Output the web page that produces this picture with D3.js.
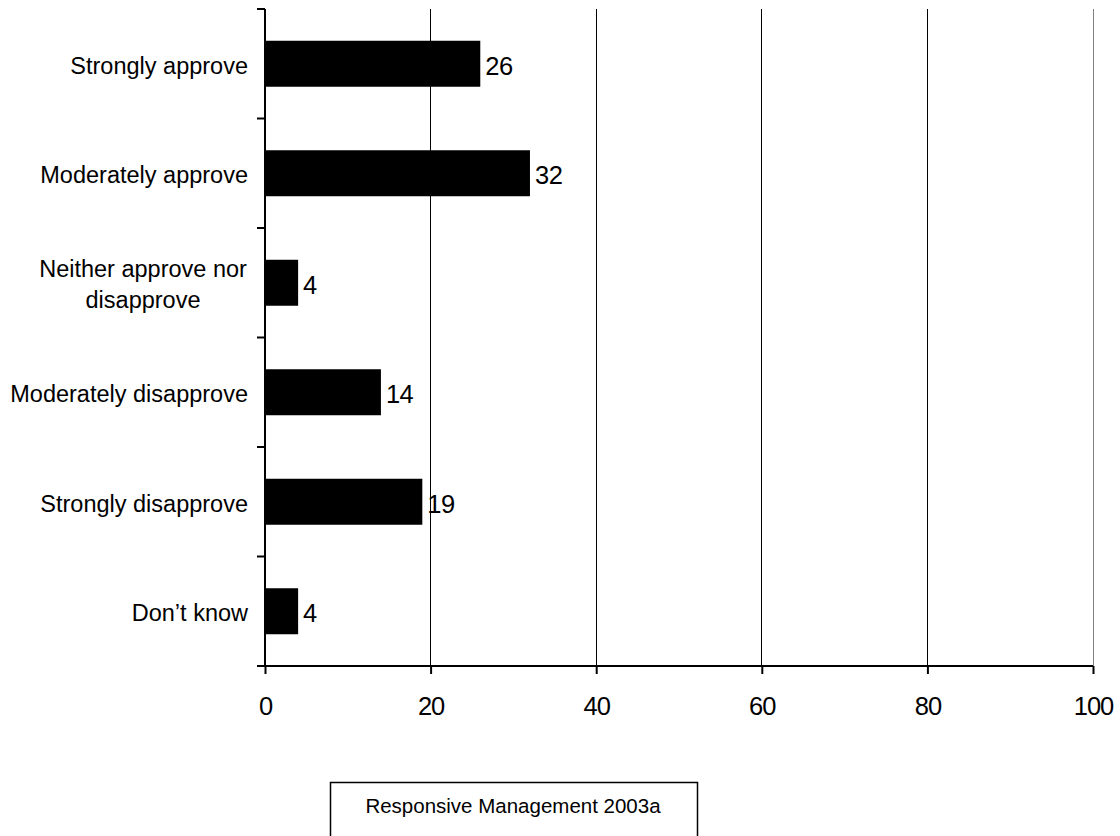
<!DOCTYPE html>
<html>
<head>
<meta charset="utf-8">
<script src="https://cdn.jsdelivr.net/npm/d3@7"></script>
<style>
  html, body { margin: 0; padding: 0; background: #fff; }
  svg { display: block; font-family: "Liberation Sans", Arial, sans-serif; }
</style>
</head>
<body>
<svg id="chart" width="1120" height="836"></svg>
<script>
// Survey responses (percent)
const categories = [
  "Strongly approve",
  "Moderately approve",
  "Neither approve nor disapprove",
  "Moderately disapprove",
  "Strongly disapprove",
  "Don\u2019t know"
];
const values = [26, 32, 4, 14, 19, 4];
const xTicks = [0, 20, 40, 60, 80, 100];
const sourceNote = "Responsive Management 2003a";

// Wrapped label lines for long category names
const labelLines = {
  "Neither approve nor disapprove": ["Neither approve nor", "disapprove"]
};

const svg = d3.select("#chart");
const margin = { left: 265, right: 1120 - 1093, top: 9, bottom: 836 - 666 };
const width = 1120 - margin.left - margin.right;
const height = 836 - margin.top - margin.bottom;

const g = svg.append("g").attr("transform", `translate(${margin.left},${margin.top})`);

const x = d3.scaleLinear().domain([0, 100]).range([0, width]);
const y = d3.scaleBand().domain(categories).range([0, height]).paddingInner(0.58).paddingOuter(0.29);

// Vertical gridlines
g.append("g")
  .selectAll("line")
  .data(xTicks.filter(d => d > 0))
  .join("line")
  .attr("x1", d => x(d)).attr("x2", d => x(d))
  .attr("y1", 0).attr("y2", height)
  .attr("stroke", d => d === 100 ? "#808080" : "#000")
  .attr("stroke-width", 1)
  .attr("shape-rendering", "crispEdges");

// Bars
g.append("g")
  .selectAll("rect")
  .data(categories)
  .join("rect")
  .attr("x", 0)
  .attr("y", d => y(d))
  .attr("width", (d, i) => x(values[i]))
  .attr("height", y.bandwidth())
  .attr("fill", "#000");

// Value labels
g.append("g")
  .selectAll("text")
  .data(categories)
  .join("text")
  .attr("x", (d, i) => x(values[i]) + 5)
  .attr("y", d => y(d) + y.bandwidth() / 2 + 2)
  .attr("dy", "0.35em")
  .attr("font-size", 25.5)
  .attr("letter-spacing", -0.5)
  .attr("fill", "#000")
  .text((d, i) => values[i]);

// Y axis: ticks sit on band boundaries
const bandEdges = d3.range(categories.length + 1).map(i => (height / categories.length) * i);
const yAxisG = g.append("g");
yAxisG.append("line")
  .attr("x1", 0).attr("x2", 0).attr("y1", 0).attr("y2", height)
  .attr("stroke", "#000").attr("stroke-width", 2);
yAxisG.selectAll("line.tick")
  .data(bandEdges)
  .join("line")
  .attr("class", "tick")
  .attr("x1", -8).attr("x2", 0)
  .attr("y1", d => d).attr("y2", d => d)
  .attr("stroke", "#000").attr("stroke-width", 2);

// Category labels: single lines right-aligned, wrapped ones centred
const labels = g.append("g")
  .selectAll("text")
  .data(categories)
  .join("text")
  .attr("text-anchor", d => labelLines[d] ? "middle" : "end")
  .attr("font-size", 23.5)
  .attr("fill", "#000");
labels.each(function(d) {
  const lines = labelLines[d] || [d];
  const t = d3.select(this);
  const cy = y(d) + y.bandwidth() / 2 + 2;
  const lh = 31;
  lines.forEach((ln, i) => {
    t.append("tspan")
      .attr("x", labelLines[d] ? -122 : -17)
      .attr("y", cy + (i - (lines.length - 1) / 2) * lh)
      .attr("dy", "0.35em")
      .text(ln);
  });
});

// X axis
const xAxis = d3.axisBottom(x).tickValues(xTicks).tickSize(8).tickPadding(23).tickFormat(d3.format("d"));
const xg = g.append("g").attr("transform", `translate(0,${height})`).call(xAxis);
xg.select(".domain").attr("stroke-width", 2).attr("d", `M0,0H${width}`);
xg.selectAll(".tick line").attr("stroke-width", 2);
xg.selectAll(".tick text")
  .attr("font-size", 25.5)
  .attr("letter-spacing", -1)
  .attr("font-family", "Liberation Sans, Arial, sans-serif")
  .attr("fill", "#000");

// Source note box
const box = svg.append("g");
box.append("rect")
  .attr("x", 330.5).attr("y", 782.5)
  .attr("width", 367).attr("height", 60)
  .attr("fill", "#fff").attr("stroke", "#000").attr("stroke-width", 1.5);
box.append("text")
  .attr("x", 513).attr("y", 806)
  .attr("dy", "0.35em")
  .attr("text-anchor", "middle")
  .attr("font-size", 20.5)
  .attr("fill", "#000")
  .text(sourceNote);
</script>
</body>
</html>
